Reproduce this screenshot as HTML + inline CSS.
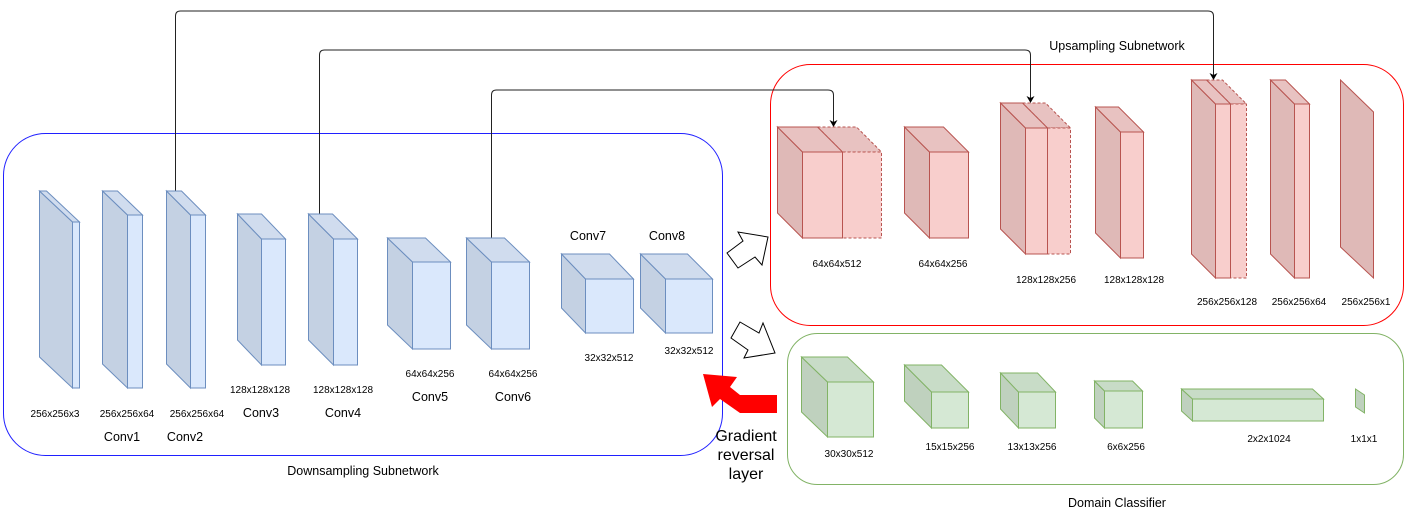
<!DOCTYPE html>
<html><head><meta charset="utf-8"><style>
html,body{margin:0;padding:0;background:#fff}
svg{display:block}
text{font-family:"Liberation Sans",sans-serif;fill:#000}
.s{font-size:10px}
.m{font-size:12.5px}
</style></head><body>
<svg width="1406" height="518" viewBox="0 0 1406 518" xmlns="http://www.w3.org/2000/svg">
<defs>
<marker id="ah" markerWidth="8" markerHeight="8" refX="6" refY="4" orient="auto" markerUnits="userSpaceOnUse"><path d="M0,0 L7,4 L0,8 L2,4z" fill="#000"/></marker>
</defs>
<rect x="3.5" y="133.5" width="719" height="322" rx="42" fill="none" stroke="#2020ff" stroke-width="1"/>
<rect x="770.5" y="64.5" width="633" height="261" rx="40" fill="none" stroke="#ff0000" stroke-width="1"/>
<rect x="787.5" y="333.5" width="616" height="151" rx="30" fill="none" stroke="#82b366" stroke-width="1"/>

<g fill="none" stroke="#222" stroke-width="1">
<path d="M175.5,191 V16 Q175.5,11 180.5,11 H1208 Q1213.5,11 1213.5,16 V79" marker-end="url(#ah)"/>
<path d="M319.5,214 V55 Q319.5,50 324.5,50 H1025 Q1030.5,50 1030.5,55 V102" marker-end="url(#ah)"/>
<path d="M491.5,238 V95 Q491.5,90 496.5,90 H828 Q833.5,90 833.5,95 V126" marker-end="url(#ah)"/>
</g>

<g stroke="#6c8ebf" stroke-width="1">
<g><polygon points="39.5,191 72.5,222 72.5,388 39.5,357" fill="#c4d1e3"/><polygon points="39.5,191 46.5,191 79.5,222 72.5,222" fill="#d0dcee"/><rect x="72.5" y="222" width="7" height="166" fill="#dae8fc"/></g>
<g><polygon points="102.5,191 127.5,215 127.5,388 102.5,364" fill="#c4d1e3"/><polygon points="102.5,191 117.5,191 142.5,215 127.5,215" fill="#d0dcee"/><rect x="127.5" y="215" width="15" height="173" fill="#dae8fc"/></g>
<g><polygon points="166.5,191 190.5,215 190.5,388 166.5,364" fill="#c4d1e3"/><polygon points="166.5,191 181.5,191 205.5,215 190.5,215" fill="#d0dcee"/><rect x="190.5" y="215" width="15" height="173" fill="#dae8fc"/></g>
<g><polygon points="237.5,214 261.5,239 261.5,365 237.5,340" fill="#c4d1e3"/><polygon points="237.5,214 261.5,214 285.5,239 261.5,239" fill="#d0dcee"/><rect x="261.5" y="239" width="24" height="126" fill="#dae8fc"/></g>
<g><polygon points="308.5,214 333.5,239 333.5,365 308.5,340" fill="#c4d1e3"/><polygon points="308.5,214 332.5,214 357.5,239 333.5,239" fill="#d0dcee"/><rect x="333.5" y="239" width="24" height="126" fill="#dae8fc"/></g>
<g><polygon points="387.5,238 412.5,262 412.5,349 387.5,325" fill="#c4d1e3"/><polygon points="387.5,238 425.5,238 450.5,262 412.5,262" fill="#d0dcee"/><rect x="412.5" y="262" width="38" height="87" fill="#dae8fc"/></g>
<g><polygon points="466.5,238 491.5,262 491.5,349 466.5,325" fill="#c4d1e3"/><polygon points="466.5,238 504.5,238 529.5,262 491.5,262" fill="#d0dcee"/><rect x="491.5" y="262" width="38" height="87" fill="#dae8fc"/></g>
<g><polygon points="561.5,254 585.5,279 585.5,333 561.5,308" fill="#c4d1e3"/><polygon points="561.5,254 609.5,254 633.5,279 585.5,279" fill="#d0dcee"/><rect x="585.5" y="279" width="48" height="54" fill="#dae8fc"/></g>
<g><polygon points="640.5,254 665.5,279 665.5,333 640.5,308" fill="#c4d1e3"/><polygon points="640.5,254 687.5,254 712.5,279 665.5,279" fill="#d0dcee"/><rect x="665.5" y="279" width="47" height="54" fill="#dae8fc"/></g>
</g>

<g stroke="#b85450" stroke-width="1">
<g stroke-dasharray="3,2"><polygon points="817.5,127 856.5,127 881.5,152 842.5,152" fill="#e8c2c1"/><rect x="842.5" y="152" width="39" height="86" fill="#f8cecc"/></g>
<g><polygon points="777.5,127 802.5,152 802.5,238 777.5,213" fill="#dfb9b7"/><polygon points="777.5,127 817.5,127 842.5,152 802.5,152" fill="#e8c2c1"/><rect x="802.5" y="152" width="40" height="86" fill="#f8cecc"/></g>
<g><polygon points="904.5,127 929.5,152 929.5,238 904.5,213" fill="#dfb9b7"/><polygon points="904.5,127 943.5,127 968.5,152 929.5,152" fill="#e8c2c1"/><rect x="929.5" y="152" width="39" height="86" fill="#f8cecc"/></g>
<g stroke-dasharray="3,2"><polygon points="1022.5,103 1045.5,103 1070.5,128 1047.5,128" fill="#e8c2c1"/><rect x="1047.5" y="128" width="23" height="126" fill="#f8cecc"/></g>
<g><polygon points="1000.5,103 1025.5,128 1025.5,254 1000.5,229" fill="#dfb9b7"/><polygon points="1000.5,103 1022.5,103 1047.5,128 1025.5,128" fill="#e8c2c1"/><rect x="1025.5" y="128" width="22" height="126" fill="#f8cecc"/></g>
<g><polygon points="1095.5,107 1120.5,132 1120.5,258 1095.5,233" fill="#dfb9b7"/><polygon points="1095.5,107 1118.5,107 1143.5,132 1120.5,132" fill="#e8c2c1"/><rect x="1120.5" y="132" width="23" height="126" fill="#f8cecc"/></g>
<g stroke-dasharray="3,2"><polygon points="1206.5,80 1222.5,80 1246.5,104 1230.5,104" fill="#e8c2c1"/><rect x="1230.5" y="104" width="16" height="174" fill="#f8cecc"/></g>
<g><polygon points="1191.5,80 1215.5,104 1215.5,278 1191.5,254" fill="#dfb9b7"/><polygon points="1191.5,80 1206.5,80 1230.5,104 1215.5,104" fill="#e8c2c1"/><rect x="1215.5" y="104" width="15" height="174" fill="#f8cecc"/></g>
<g><polygon points="1270.5,80 1294.5,104 1294.5,278 1270.5,254" fill="#dfb9b7"/><polygon points="1270.5,80 1285.5,80 1309.5,104 1294.5,104" fill="#e8c2c1"/><rect x="1294.5" y="104" width="15" height="174" fill="#f8cecc"/></g>
<polygon points="1340.5,80 1373.5,112 1373.5,278 1340.5,247" fill="#dfb9b7"/>
</g>

<g stroke="#82b366" stroke-width="1">
<g><polygon points="801.5,357 827.5,382 827.5,437 801.5,412" fill="#bfd1be"/><polygon points="801.5,357 847.5,357 873.5,382 827.5,382" fill="#c8dcc7"/><rect x="827.5" y="382" width="46" height="55" fill="#d5e8d4"/></g>
<g><polygon points="904.5,365 931.5,392 931.5,428 904.5,401" fill="#bfd1be"/><polygon points="904.5,365 941.5,365 968.5,392 931.5,392" fill="#c8dcc7"/><rect x="931.5" y="392" width="37" height="36" fill="#d5e8d4"/></g>
<g><polygon points="1000.5,373 1018.5,392 1018.5,428 1000.5,409" fill="#bfd1be"/><polygon points="1000.5,373 1037.5,373 1055.5,392 1018.5,392" fill="#c8dcc7"/><rect x="1018.5" y="392" width="37" height="36" fill="#d5e8d4"/></g>
<g><polygon points="1094.5,381 1104.5,391 1104.5,428 1094.5,418" fill="#bfd1be"/><polygon points="1094.5,381 1132.5,381 1142.5,391 1104.5,391" fill="#c8dcc7"/><rect x="1104.5" y="391" width="38" height="37" fill="#d5e8d4"/></g>
<g><polygon points="1181.5,389 1192.5,399 1192.5,421 1181.5,411" fill="#bfd1be"/><polygon points="1181.5,389 1312.5,389 1323.5,399 1192.5,399" fill="#c8dcc7"/><rect x="1192.5" y="399" width="131" height="22" fill="#d5e8d4"/></g>
<polygon points="1355.5,389 1364.5,395 1364.5,413 1355.5,407" fill="#bfd1be"/>
</g>

<polygon points="727,253 743,241 738,232 768,237 762,265 755,257 738,268" fill="#fff" stroke="#000" stroke-width="1"/>
<polygon points="740,322 759,333 763,323 775,353 744,358 748,350 731,338" fill="#fff" stroke="#000" stroke-width="1"/>
<polygon points="703,374 737,377 730,387 740,395 777,395 777,413 740,413 720,399 712,407" fill="#ff0000"/>

<g class="s" text-anchor="middle">
<text x="55" y="417">256x256x3</text>
<text x="127" y="417">256x256x64</text>
<text x="197" y="417">256x256x64</text>
<text x="260" y="393">128x128x128</text>
<text x="343" y="393">128x128x128</text>
<text x="430" y="377">64x64x256</text>
<text x="513" y="377">64x64x256</text>
<text x="609" y="361">32x32x512</text>
<text x="689" y="354">32x32x512</text>
<text x="837" y="267">64x64x512</text>
<text x="943" y="267">64x64x256</text>
<text x="1046" y="283">128x128x256</text>
<text x="1134" y="283">128x128x128</text>
<text x="1227" y="305">256x256x128</text>
<text x="1299" y="305">256x256x64</text>
<text x="1366" y="305">256x256x1</text>
<text x="849" y="457">30x30x512</text>
<text x="950" y="450">15x15x256</text>
<text x="1032" y="450">13x13x256</text>
<text x="1126" y="450">6x6x256</text>
<text x="1269" y="442">2x2x1024</text>
<text x="1364" y="442">1x1x1</text>
</g>
<g class="m" text-anchor="middle">
<text x="122" y="441">Conv1</text>
<text x="185" y="441">Conv2</text>
<text x="261" y="417">Conv3</text>
<text x="343" y="417">Conv4</text>
<text x="430" y="401">Conv5</text>
<text x="513" y="401">Conv6</text>
<text x="588" y="240">Conv7</text>
<text x="667" y="240">Conv8</text>
<text x="363" y="475">Downsampling Subnetwork</text>
<text x="1117" y="50">Upsampling Subnetwork</text>
<text x="1117" y="507">Domain Classifier</text>
</g>
<g text-anchor="middle" style="font-size:16px">
<text x="746" y="441">Gradient</text>
<text x="746" y="460">reversal</text>
<text x="746" y="479">layer</text>
</g>
</svg>
</body></html>
